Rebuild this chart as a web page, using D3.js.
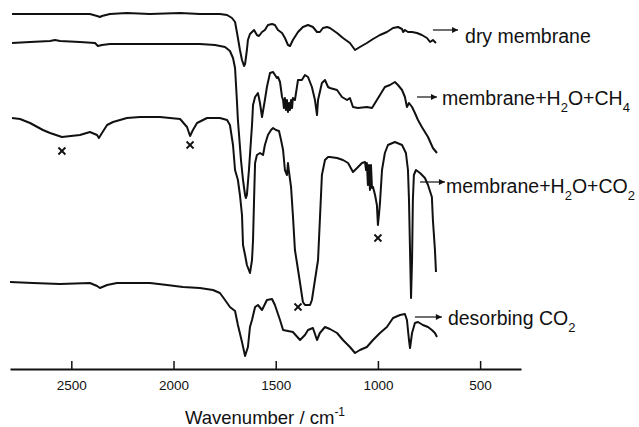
<!DOCTYPE html>
<html>
<head>
<meta charset="utf-8">
<script src="https://cdn.jsdelivr.net/npm/d3@7"></script>
<style>
  html, body { margin: 0; padding: 0; background: #fff; }
  svg { display: block; }
  text { font-family: "Liberation Sans", Arial, Helvetica, sans-serif; fill: #111; }
</style>
</head>
<body>
<svg id="chart" width="639" height="427"></svg>
<script>
// IR spectra, stacked with vertical offsets: [wavenumber (cm-1), transmittance (a.u., offset)]
const dryMembrane = [
  [2790,356],[2702,356],[2555,356],[2409,356],[2374,354],[2360,353],[2350,354],[2311,356],
  [2228,357],[2115,356],[1968,357],[1871,356],[1773,356],[1738,355],[1714,352],[1699,348],
  [1690,338],[1675,320],[1665,310],[1655,304],[1650,306],[1641,320],[1636,330],[1626,336],
  [1616,338],[1606,340],[1592,335],[1582,334],[1567,338],[1553,340],[1538,345],[1518,346],
  [1504,345],[1489,340],[1469,337],[1455,332],[1440,325],[1430,324],[1416,330],[1391,338],
  [1367,343],[1342,345],[1318,343],[1298,338],[1284,338],[1269,342],[1249,343],[1235,342],
  [1200,337],[1171,332],[1137,327],[1112,320],[1088,323],[1054,327],[1024,331],[990,335],
  [956,338],[926,342],[902,343],[882,341],[877,338],[868,340],[853,338],[833,338],
  [809,337],[785,335],[760,332],[745,328],[731,330],[716,327]
];

const membraneH2OCH4 = [
  [2790,327],[2702,328],[2604,329],[2580,330],[2555,329],[2458,328],[2384,327],[2370,324],
  [2350,325],[2311,326],[2115,326],[1871,326],[1797,325],[1748,323],[1724,319],[1709,312],
  [1699,302],[1690,270],[1685,250],[1670,210],[1660,190],[1650,175],[1646,172],[1641,175],
  [1631,200],[1621,230],[1616,245],[1611,265],[1601,273],[1587,277],[1577,267],[1567,253],
  [1553,270],[1543,283],[1528,297],[1513,298],[1494,292],[1489,293],[1479,288],[1469,273],
  [1464,270],[1460,262],[1455,272],[1450,260],[1445,270],[1440,258],[1435,267],[1430,260],
  [1425,270],[1420,262],[1416,272],[1406,270],[1391,290],[1372,290],[1357,295],[1342,293],
  [1323,283],[1308,270],[1298,255],[1293,270],[1274,287],[1259,290],[1244,283],[1235,282],
  [1200,280],[1176,273],[1151,270],[1137,272],[1122,263],[1098,262],[1054,263],[1029,262],
  [1014,267],[990,275],[966,283],[941,285],[917,288],[902,285],[882,280],[868,273],
  [858,263],[848,267],[833,263],[819,257],[804,250],[785,243],[755,233],[731,222],[711,217]
];

const membraneH2OCO2 = [
  [2790,252],[2751,251],[2702,247],[2639,240],[2604,237],[2546,233],[2458,235],[2409,238],
  [2374,235],[2365,232],[2350,237],[2325,245],[2296,248],[2228,252],[2164,253],[2066,253],
  [1968,251],[1934,243],[1919,234],[1905,240],[1885,247],[1836,252],[1773,252],[1738,250],
  [1724,245],[1709,225],[1699,200],[1685,190],[1675,175],[1665,155],[1660,125],[1650,115],
  [1641,105],[1626,97],[1616,110],[1611,130],[1606,170],[1601,207],[1592,215],[1577,217],
  [1562,215],[1553,225],[1538,235],[1523,240],[1513,242],[1499,240],[1484,239],[1474,230],
  [1464,220],[1455,200],[1445,195],[1440,207],[1435,198],[1425,183],[1416,155],[1406,120],
  [1396,107],[1381,87],[1367,68],[1357,65],[1332,65],[1323,70],[1308,90],[1293,110],
  [1284,150],[1274,195],[1259,210],[1244,213],[1235,213],[1200,212],[1171,210],[1146,207],
  [1122,198],[1102,202],[1078,207],[1063,208],[1058,200],[1054,207],[1049,185],[1044,205],
  [1039,180],[1034,205],[1029,182],[1024,183],[1014,175],[1005,165],[1000,145],[995,155],
  [990,167],[980,200],[966,217],[951,225],[917,228],[882,225],[863,217],[853,200],
  [848,170],[843,120],[838,72],[833,110],[829,170],[824,195],[814,200],[794,197],
  [770,192],[755,185],[736,173],[731,150],[721,120],[716,98]
];

const desorbingCO2 = [
  [2800,88],[2688,87],[2555,86],[2409,87],[2374,84],[2360,82],[2325,85],[2277,87],
  [2115,87],[2032,85],[1954,83],[1871,82],[1807,80],[1773,77],[1748,70],[1724,63],
  [1699,59],[1685,45],[1665,28],[1650,14],[1636,23],[1626,43],[1616,50],[1601,63],
  [1587,65],[1567,60],[1543,70],[1518,71],[1504,65],[1479,50],[1464,40],[1440,39],
  [1416,38],[1381,30],[1357,35],[1342,40],[1318,42],[1298,30],[1284,37],[1259,43],
  [1235,41],[1200,37],[1171,30],[1137,23],[1112,17],[1088,20],[1054,23],[1024,30],
  [990,37],[956,43],[926,52],[892,55],[868,56],[858,50],[848,30],[843,22],
  [833,37],[819,47],[804,48],[780,45],[755,43],[736,40],[721,37],[711,33]
];

// Bands marked with a cross on the membrane+H2O+CO2 spectrum
const markedBands = [[2546,219],[1919,225],[1391,63],[1000,132]];

const tickValues = [2500, 2000, 1500, 1000, 500];

const svg = d3.select("#chart");
const W = 639, H = 427;
svg.append("rect").attr("width", W).attr("height", H).attr("fill", "#fff");

const x = d3.scaleLinear().domain([2800, 300]).range([10, 521]);
const y = d3.scaleLinear().domain([0, 370]).range([370, 0]);
const axisY = 369;

// arrowhead marker
svg.append("defs").append("marker")
  .attr("id", "head")
  .attr("viewBox", "0 0 10 10")
  .attr("refX", 10).attr("refY", 5)
  .attr("markerUnits", "userSpaceOnUse")
  .attr("markerWidth", 9).attr("markerHeight", 6)
  .attr("orient", "auto")
  .append("path").attr("d", "M0,0 L10,5 L0,10 Z").attr("fill", "#111");

// spectra
const line = d3.line().x(d => x(d[0])).y(d => y(d[1]));
const spectra = [dryMembrane, membraneH2OCH4, membraneH2OCO2, desorbingCO2];
svg.append("g").selectAll("path").data(spectra).join("path")
  .attr("d", line)
  .attr("fill", "none")
  .attr("stroke", "#111")
  .attr("stroke-width", 2)
  .attr("stroke-linejoin", "round");

// cross markers
const cs = 3.5;
const marks = svg.append("g").attr("stroke", "#111").attr("stroke-width", 1.8);
markedBands.forEach(d => {
  const cx = x(d[0]), cy = y(d[1]);
  marks.append("line").attr("x1", cx - cs).attr("y1", cy - cs).attr("x2", cx + cs).attr("y2", cy + cs);
  marks.append("line").attr("x1", cx - cs).attr("y1", cy + cs).attr("x2", cx + cs).attr("y2", cy - cs);
});

// x axis
const axis = d3.axisBottom(x)
  .tickValues(tickValues)
  .tickFormat(d3.format("d"))
  .tickSizeInner(-8)
  .tickSizeOuter(0)
  .tickPadding(11);
const gx = svg.append("g").attr("transform", `translate(0,${axisY})`).call(axis);
gx.select(".domain").attr("stroke", "#111").attr("stroke-width", 1.8);
gx.selectAll(".tick line").attr("stroke", "#111").attr("stroke-width", 1.5);
gx.selectAll(".tick text")
  .attr("font-family", "'Liberation Sans', Arial, sans-serif")
  .attr("font-size", 13.5).attr("fill", "#111");

// axis title
const title = svg.append("text")
  .attr("x", 265).attr("y", 424)
  .attr("text-anchor", "middle")
  .attr("font-size", 18.5);
title.append("tspan").text("Wavenumber / cm");
title.append("tspan").attr("dy", -8).attr("font-size", 12).text("-1");

// curve labels with arrows
const labels = [
  { parts: [["dry membrane", 0]], from: 731, to: 608, v: 340, dx: 7, dy: 13 },
  { parts: [["membrane+H", 0], ["2", 1], ["O+CH", 0], ["4", 1]], from: 809, to: 711, v: 273, dx: 5, dy: 8 },
  { parts: [["membrane+H", 0], ["2", 1], ["O+CO", 0], ["2", 1]], from: 794, to: 672, v: 188, dx: 1, dy: 11 },
  { parts: [["desorbing CO", 0], ["2", 1]], from: 819, to: 687, v: 53, dx: 6, dy: 8 }
];
labels.forEach(l => {
  const yy = y(l.v);
  svg.append("line")
    .attr("x1", x(l.from)).attr("y1", yy)
    .attr("x2", x(l.to)).attr("y2", yy)
    .attr("stroke", "#111").attr("stroke-width", 1.2)
    .attr("marker-end", "url(#head)");
  const t = svg.append("text")
    .attr("x", x(l.to) + l.dx).attr("y", yy + l.dy)
    .attr("font-size", 19.5);
  let shift = 0;
  l.parts.forEach(([s, sub]) => {
    const want = sub ? 7 : 0;
    t.append("tspan")
      .attr("dy", want - shift)
      .attr("font-size", sub ? 13 : 19.5)
      .text(s);
    shift = want;
  });
});
</script>
</body>
</html>
